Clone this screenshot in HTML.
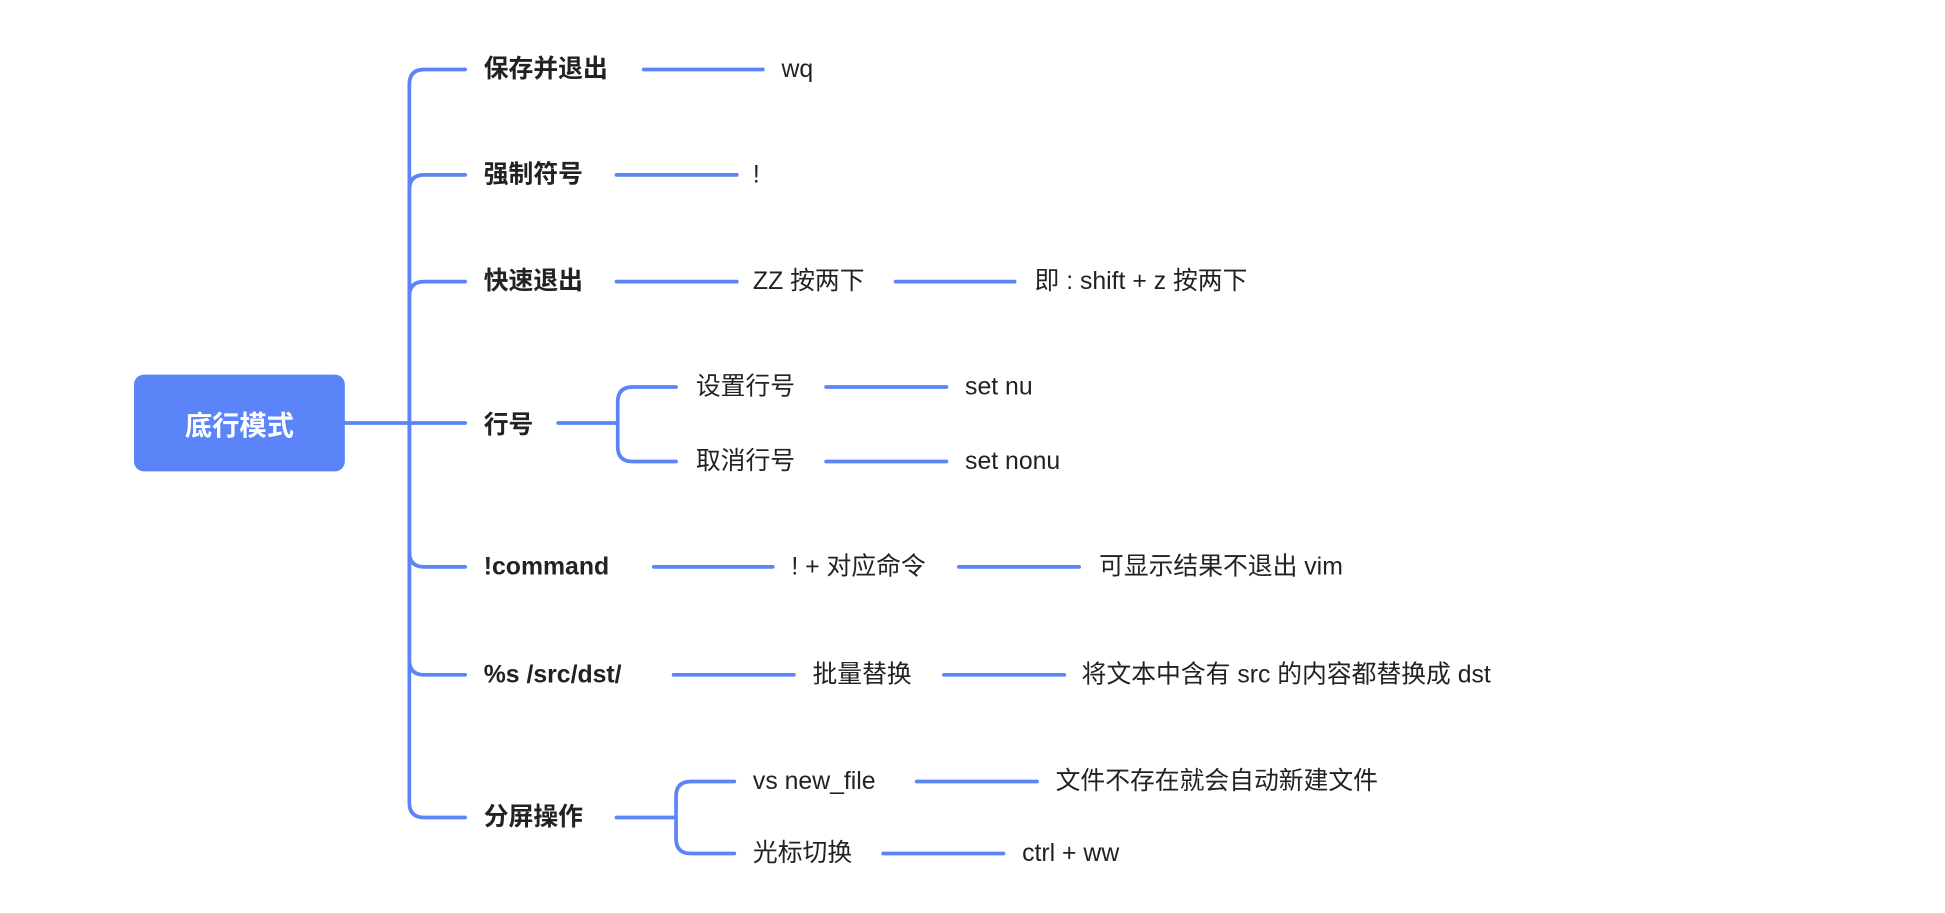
<!DOCTYPE html>
<html><head><meta charset="utf-8"><style>
html,body{margin:0;padding:0;background:#fff;width:1945px;height:913px;overflow:hidden}
svg{display:block}
text{font-family:"Liberation Sans","Noto Sans CJK SC",sans-serif;fill:#222;dominant-baseline:central}
.b{font-weight:bold;font-size:20px}
.n{font-size:20px}
</style></head><body>
<svg width="1945" height="913" viewBox="0 0 1568 736" preserveAspectRatio="none">
<g fill="none" stroke="#5b84f9" stroke-width="3" stroke-linecap="round">
<path d="M278 341 H375"/>
<path d="M330 341 V68 Q330 56 342 56 H375"/>
<path d="M330 341 V153 Q330 141 342 141 H375"/>
<path d="M330 341 V239 Q330 227 342 227 H375"/>
<path d="M330 341 V445 Q330 457 342 457 H375"/>
<path d="M330 341 V532 Q330 544 342 544 H375"/>
<path d="M330 341 V647 Q330 659 342 659 H375"/>
<path d="M519 56 H615"/><path d="M497 141 H594"/>
<path d="M497 227 H594"/><path d="M722 227 H818"/>
<path d="M450 341 H498"/>
<path d="M498 341 V324 Q498 312 510 312 H545"/>
<path d="M498 341 V360 Q498 372 510 372 H545"/>
<path d="M666 312 H763"/><path d="M666 372 H763"/>
<path d="M527 457 H623"/><path d="M773 457 H870"/>
<path d="M543 544 H640"/><path d="M761 544 H858"/>
<path d="M497 659 H545"/>
<path d="M545 659 V642 Q545 630 557 630 H592"/>
<path d="M545 659 V676 Q545 688 557 688 H592"/>
<path d="M739 630 H836"/><path d="M712 688 H809"/>
</g>
<rect x="108" y="302" width="170" height="78" rx="8" fill="#5b84f9"/>
<text x="193" y="343" text-anchor="middle" style="fill:#fff;font-weight:bold;font-size:22px">底行模式</text>
<text class="b" x="390" y="56">保存并退出</text>
<text class="n" x="630" y="56">wq</text>
<text class="b" x="390" y="141">强制符号</text>
<text class="n" x="607" y="141">!</text>
<text class="b" x="390" y="227">快速退出</text>
<text class="n" x="607" y="227">ZZ 按两下</text>
<text class="n" x="834" y="227">即 : shift + z 按两下</text>
<text class="b" x="390" y="343">行号</text>
<text class="n" x="561" y="312">设置行号</text>
<text class="n" x="778" y="312">set nu</text>
<text class="n" x="561" y="372">取消行号</text>
<text class="n" x="778" y="372">set nonu</text>
<text class="b" x="390" y="457">!command</text>
<text class="n" x="638" y="457">! + 对应命令</text>
<text class="n" x="886" y="457">可显示结果不退出 vim</text>
<text class="b" x="390" y="544">%s /src/dst/</text>
<text class="n" x="655" y="544">批量替换</text>
<text class="n" x="872" y="544">将文本中含有 src 的内容都替换成 dst</text>
<text class="b" x="390" y="659">分屏操作</text>
<text class="n" x="607" y="630">vs new_file</text>
<text class="n" x="851" y="630">文件不存在就会自动新建文件</text>
<text class="n" x="607" y="688">光标切换</text>
<text class="n" x="824" y="688">ctrl + ww</text>
</svg>
</body></html>
